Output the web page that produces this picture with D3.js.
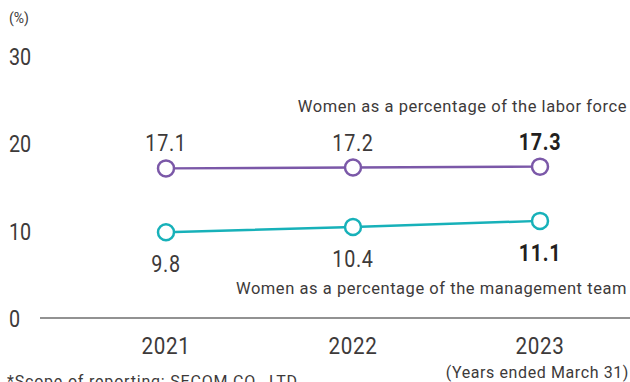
<!DOCTYPE html>
<html>
<head>
<meta charset="utf-8">
<script src="https://cdn.jsdelivr.net/npm/d3@7"></script>
<style>
  html, body { margin: 0; padding: 0; background: #fff; }
  svg { display: block; font-family: Roboto, "Noto Sans", sans-serif; }
</style>
</head>
<body>
<svg id="chart" width="630" height="382"></svg>
<script>
// Fiscal years (ended March 31)
const years = ["2021", "2022", "2023"];
// Women as a percentage of the labor force (%)
const laborForce = [17.1, 17.2, 17.3];
// Women as a percentage of the management team (%)
const management = [9.8, 10.4, 11.1];
// Y-axis ticks
const yTicks = [0, 10, 20, 30];

const svg = d3.select("#chart");
const textColor = "#3d3a3a";
const narrow = 0.86; // horizontal squeeze for the numeric figures

const x = d3.scalePoint().domain(years).range([166, 540]);
const y = d3.scaleLinear().domain([0, 30]).range([318, 55.5]);

// Places a text with a narrowed glyph width at (px, py)
function place(sel, px, py) {
  return sel.attr("transform", (d, i) =>
    `translate(${typeof px === "function" ? px(d, i) : px},${typeof py === "function" ? py(d, i) : py}) scale(${narrow},1)`);
}

// Unit label
svg.append("text").attr("x", 9).attr("y", 23)
  .attr("font-size", 14).attr("fill", textColor).text("(%)");

// Y tick labels
place(svg.append("g").selectAll("text").data(yTicks).join("text"),
    9, d => y(d) + 9)
  .attr("font-size", 23).attr("fill", textColor)
  .text(d => d);

// Baseline
svg.append("line")
  .attr("x1", 40).attr("x2", 630)
  .attr("y1", y(0)).attr("y2", y(0))
  .attr("stroke", "#6e6e6e").attr("stroke-width", 1.5);

// Year labels
place(svg.append("g").selectAll("text").data(years).join("text"),
    d => x(d), 354)
  .attr("text-anchor", "middle").attr("font-size", 24)
  .attr("letter-spacing", 0.8).attr("fill", textColor)
  .text(d => d);

svg.append("text").attr("x", 629).attr("y", 378)
  .attr("text-anchor", "end").attr("font-size", 16)
  .attr("letter-spacing", 0.6).attr("fill", textColor)
  .text("(Years ended March 31)");

svg.append("text").attr("x", 7).attr("y", 387)
  .attr("font-size", 16).attr("letter-spacing", 0.8).attr("fill", textColor)
  .text("*Scope of reporting: SECOM CO., LTD.");

const line = d3.line().x((d, i) => x(years[i])).y(d => y(d));

function drawSeries(values, color, labelDy) {
  const g = svg.append("g");
  g.append("path").datum(values)
    .attr("d", line).attr("fill", "none")
    .attr("stroke", color).attr("stroke-width", 2.5);
  g.selectAll("circle").data(values).join("circle")
    .attr("cx", (d, i) => x(years[i])).attr("cy", d => y(d))
    .attr("r", 8).attr("fill", "#fff")
    .attr("stroke", color).attr("stroke-width", 2.5);
  place(g.selectAll("text").data(values).join("text"),
      (d, i) => x(years[i]), d => y(d) + labelDy)
    .attr("text-anchor", "middle").attr("font-size", 23)
    .attr("letter-spacing", 0.8)
    .attr("font-weight", (d, i) => i === values.length - 1 ? 700 : 400)
    .attr("fill", (d, i) => i === values.length - 1 ? "#231f20" : textColor)
    .text(d => d.toFixed(1));
}

drawSeries(laborForce, "#7b58a8", -17);
drawSeries(management, "#17b1b9", 40);

// Series names
svg.append("text").attr("x", 627).attr("y", 112)
  .attr("text-anchor", "end").attr("font-size", 16.5)
  .attr("letter-spacing", 0.55).attr("fill", textColor)
  .text("Women as a percentage of the labor force");
svg.append("text").attr("x", 627).attr("y", 294)
  .attr("text-anchor", "end").attr("font-size", 16.5)
  .attr("letter-spacing", 0.55).attr("fill", textColor)
  .text("Women as a percentage of the management team");
</script>
</body>
</html>
